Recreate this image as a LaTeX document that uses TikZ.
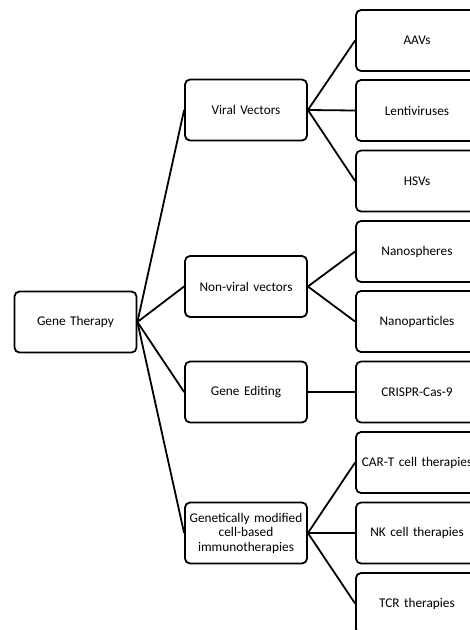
\documentclass[tikz,border=0pt]{standalone}
\usepackage{fontspec}
\setmainfont{Carlito}
\usepackage{tikz}

\tikzset{
  box/.style = {draw, line width=1.8pt, rounded corners=5pt, minimum width=122pt,
    minimum height=61pt, inner sep=1pt, align=center, text width=120pt,
    font=\fontsize{13.3}{14.5}\selectfont},
  link/.style = {line width=1.8pt}
}

\begin{document}
\begin{tikzpicture}[x=1pt, y=-1pt]
\clip (0,0) rectangle (470,630);

\node[box] (GT) at (75.5,322) {Gene Therapy};

\node[box] (VV) at (246,110) {Viral Vectors};
	\node[box] (AAV) at (417,40.5) {AAVs};
	\node[box] (LV) at (417,110.5) {Lentiviruses};
	\node[box] (HSV) at (417,181) {HSVs};

\node[box] (NV) at (246,286.5) {Non-viral vectors};
	\node[box] (NS) at (417,251.5) {Nanospheres};
	\node[box] (NP) at (417,321.5) {Nanoparticles};

\node[box] (GE) at (246,392) {Gene Editing};
	\node[box] (CR) at (417,392) {CRISPR-Cas-9};

\node[box] (GM) at (246,533) {Genetically modified\\cell-based\\immunotherapies};
	\node[box] (CAR) at (417,462.5) {CAR-T cell therapies};
	\node[box] (NK) at (417,533) {NK cell therapies};
	\node[box] (TCR) at (417,603.5) {TCR therapies};

\draw[link] (GT.east) -- (VV.west);
\draw[link] (GT.east) -- (NV.west);
\draw[link] (GT.east) -- (GE.west);
\draw[link] (GT.east) -- (GM.west);

\draw[link] (VV.east) -- (AAV.west);
\draw[link] (VV.east) -- (LV.west);
\draw[link] (VV.east) -- (HSV.west);

\draw[link] (NV.east) -- (NS.west);
\draw[link] (NV.east) -- (NP.west);

\draw[link] (GE.east) -- (CR.west);

\draw[link] (GM.east) -- (CAR.west);
\draw[link] (GM.east) -- (NK.west);
\draw[link] (GM.east) -- (TCR.west);

\end{tikzpicture}
\end{document}
